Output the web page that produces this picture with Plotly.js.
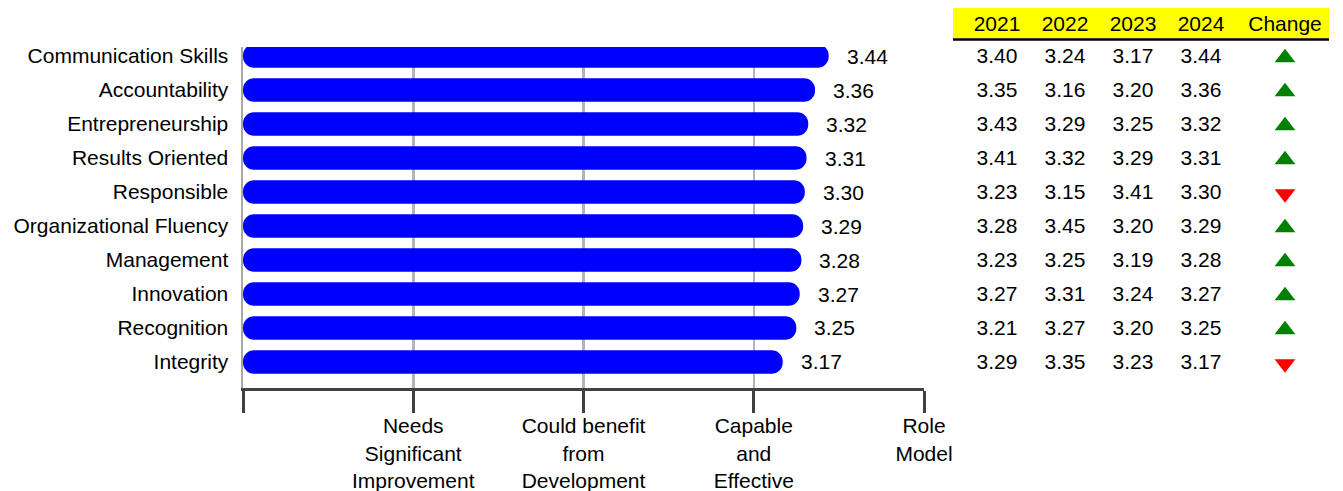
<!DOCTYPE html>
<html>
<head>
<meta charset="utf-8">
<script src="https://cdn.plot.ly/plotly-3.0.1.min.js"></script>
<style>html,body{margin:0;padding:0;background:#fff;}#chart{width:1343px;height:491px;}</style>
</head>
<body>
<div id="chart"></div>
<script>
// ---- data ----
const categories = ["Communication Skills","Accountability","Entrepreneurship","Results Oriented","Responsible","Organizational Fluency","Management","Innovation","Recognition","Integrity"];
const scores2024 = [3.44,3.36,3.32,3.31,3.30,3.29,3.28,3.27,3.25,3.17];
const years = ["2021","2022","2023","2024"];
const values2021 = [3.40,3.35,3.43,3.41,3.23,3.28,3.23,3.27,3.21,3.29];
const values2022 = [3.24,3.16,3.29,3.32,3.15,3.45,3.25,3.31,3.27,3.35];
const values2023 = [3.17,3.20,3.25,3.29,3.41,3.20,3.19,3.24,3.20,3.23];
const values2024 = [3.44,3.36,3.32,3.31,3.30,3.29,3.28,3.27,3.25,3.17];
const scaleTicks = [0,1,2,3,4];
const scaleLabels = ["","Needs<br>Significant<br>Improvement","Could benefit<br>from<br>Development","Capable<br>and<br>Effective","Role<br>Model"];
const changeLabel = "Change";

// ---- layout geometry ----
const FONT = "Liberation Sans, Arial, sans-serif";
const FS = 21;
const BLUE = "#0000ff";
const L = 243, R = 1329, W = 1343;
const pw = R - L;
const fx = px => (px - L)/pw;
const T = 39, B = 388;
const ph = B - T;
const fy = py => (B - py)/ph;
const AXIS_MAX = 4;
const BAR_W = 0.69;

const traces = [];
// rounded bars (base given so both ends get rounded)
traces.push({type:"bar", orientation:"h", y:categories, x:scores2024, base:categories.map(()=>0),
  width:BAR_W, marker:{color:BLUE, line:{width:0}, cornerradius:"50%"},
  xaxis:"x", yaxis:"y", hoverinfo:"skip", showlegend:false});

const tableCols = [values2021, values2022, values2023, values2024];
tableCols.forEach((vals, i) => {
  traces.push({type:"scatter", mode:"text", x:categories.map(()=>years[i]), y:categories,
    text:vals.map(v=>v.toFixed(2)), textposition:"middle center",
    textfont:{family:FONT, size:FS, color:"#000"}, cliponaxis:false,
    xaxis:"x2", yaxis:"y2", hoverinfo:"skip", showlegend:false});
});
const up = values2024.map((v,i)=> v >= values2023[i]);
traces.push({type:"scatter", mode:"markers", x:categories.map(()=>changeLabel), y:categories,
  marker:{symbol:up.map(u=>u?"triangle-up":"triangle-down"), color:up.map(u=>u?"#008000":"#ff0000"), size:18, line:{width:0}},
  cliponaxis:false, xaxis:"x3", yaxis:"y2", hoverinfo:"skip", showlegend:false});

const annotations = scores2024.map((v,i)=>({x:v, y:categories[i], xref:"x", yref:"y",
  text:v.toFixed(2), showarrow:false, xanchor:"left", yanchor:"middle", xshift:16,
  font:{family:FONT, size:FS, color:"#000"}}));

const layout = {
  width:1343, height:491,
  margin:{l:L, r:W-R, t:T, b:491-B, pad:0},
  paper_bgcolor:"#fff", plot_bgcolor:"rgba(0,0,0,0)",
  font:{family:FONT, size:FS, color:"#000"},
  barmode:"overlay",
  showlegend:false,
  xaxis:{domain:[0, fx(924)], range:[0,AXIS_MAX], anchor:"y",
    tickvals:scaleTicks, ticktext:scaleLabels, tickfont:{family:FONT,size:FS,color:"#000"},
    showgrid:true, gridcolor:"#b4b4b4", gridwidth:2.5, zeroline:false,
    showline:true, linecolor:"#404040", linewidth:3,
    ticks:"outside", ticklen:22, tickwidth:3, tickcolor:"#404040", ticklabelstandoff:-5, fixedrange:true},
  yaxis:{domain:[0, fy(47)], type:"category", categoryarray:categories, categoryorder:"array",
    range:[9.765,-0.265], anchor:"x",
    showgrid:false, zeroline:false, showline:true, linecolor:"#a8a8a8", linewidth:2.5,
    ticks:"", ticklabelstandoff:8, tickfont:{family:FONT,size:FS,color:"#000"}, fixedrange:true},
  xaxis2:{domain:[fx(963), fx(1235)], type:"category", categoryarray:years, categoryorder:"array",
    range:[-0.5,3.5], anchor:"y2", side:"top", showgrid:false, zeroline:false, showline:false,
    ticks:"", ticklabelstandoff:3, tickfont:{family:FONT,size:FS,color:"#000"}, fixedrange:true},
  xaxis3:{domain:[fx(1241), 1], type:"category", categoryarray:[changeLabel],
    range:[-0.5,0.5], anchor:"y2", side:"top", showgrid:false, zeroline:false, showline:false,
    ticks:"", ticklabelstandoff:3, tickfont:{family:FONT,size:FS,color:"#000"}, fixedrange:true},
  yaxis2:{domain:[0,1], type:"category", categoryarray:categories, categoryorder:"array",
    range:[9.715,-0.55], anchor:"x2", visible:false, fixedrange:true},
  shapes:[
    {type:"rect", xref:"paper", yref:"paper", x0:fx(953), x1:1, y0:fy(38), y1:fy(8),
      fillcolor:"#ffff00", line:{width:0}, layer:"below"},
    {type:"line", xref:"paper", yref:"paper", x0:fx(953), x1:1, y0:fy(39.5), y1:fy(39.5),
      line:{color:"#000", width:2.5}}
  ],
  annotations:annotations
};

Plotly.newPlot("chart", traces, layout, {staticPlot:true, displayModeBar:false});
</script>
</body>
</html>
